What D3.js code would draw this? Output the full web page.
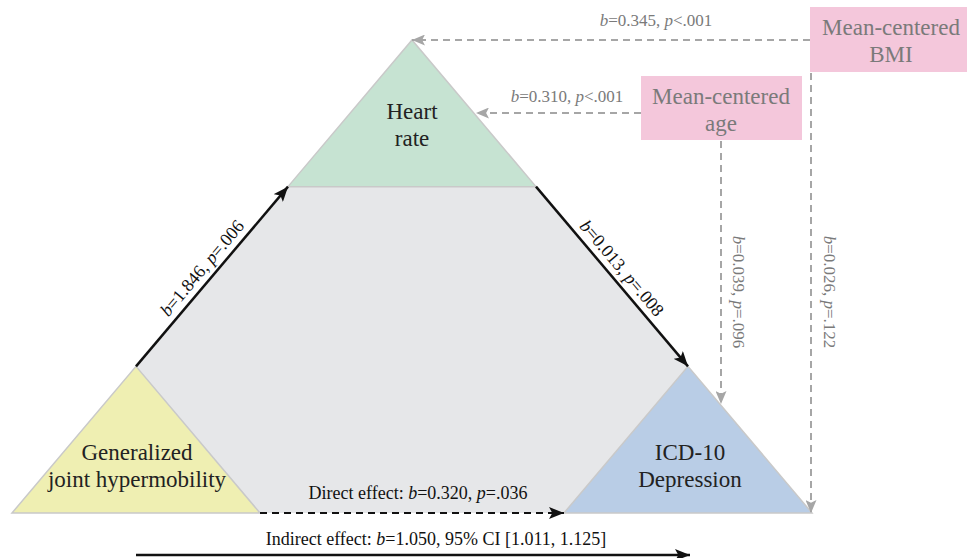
<!DOCTYPE html>
<html>
<head>
<meta charset="utf-8">
<script src="https://cdn.jsdelivr.net/npm/d3@7"></script>
<style>
  body { margin: 0; background: #fff; }
  svg text { font-family: "Liberation Serif", "Times New Roman", serif; }
</style>
</head>
<body>
<svg></svg>
<script>
(function () {
  var width = 967, height = 558;

  // node labels (lines) and their colours
  var nodeNames = ["Generalized|joint hypermobility", "Heart|rate", "ICD-10|Depression"];
  var nodeColors = ["#efefb2", "#c6e3d2", "#b9cde6"];
  var covariates = ["Mean-centered|BMI", "Mean-centered|age"];

  // path coefficients
  var pathA = {b: "1.846", p: "=.006"};
  var pathB = {b: "0.013", p: "=.008"};
  var direct = {b: "0.320", p: "=.036"};
  var indirect = {b: "1.050", ci: "95% CI [1.011, 1.125]"};
  var bmiToHr = {b: "0.345", p: "<.001"};
  var ageToHr = {b: "0.310", p: "<.001"};
  var ageToDep = {b: "0.039", p: "=.096"};
  var bmiToDep = {b: "0.026", p: "=.122"};

  var svg = d3.select("svg").attr("width", width).attr("height", height);

  // diagram coordinates: big triangle spans 0..100 in both directions
  var x = d3.scaleLinear().domain([0, 100]).range([12, 812]);
  var y = d3.scaleLinear().domain([0, 100]).range([513, 40]);
  var s = 31; // corner triangle size (units)

  var defs = svg.append("defs");
  function marker(id, color, len, wid) {
    defs.append("marker")
      .attr("id", id)
      .attr("markerUnits", "userSpaceOnUse")
      .attr("viewBox", "0 0 " + len + " " + wid)
      .attr("refX", len).attr("refY", wid / 2)
      .attr("markerWidth", len).attr("markerHeight", wid)
      .attr("orient", "auto")
      .append("path")
      .attr("d", "M0,0 L" + len + "," + (wid / 2) + " L0," + wid + " L" + (len * 0.22) + "," + (wid / 2) + " Z")
      .attr("fill", color);
  }
  marker("ab", "#111", 15, 12);
  marker("ag", "#a6a6a6", 13, 11);

  var pt = function (p) { return [x(p[0]), y(p[1])]; };
  var line = d3.line();

  // grey hexagon between the corners
  var hex = [[50 - s / 2, 100 - s], [50 + s / 2, 100 - s], [100 - s / 2, s], [100 - s, 0], [s, 0], [s / 2, s]];
  svg.append("path")
    .attr("d", line(hex.map(pt)) + "Z")
    .attr("fill", "#e6e7e9");

  // three corner triangles
  var tris = [
    [[0, 0], [s, 0], [s / 2, s]],
    [[50 - s / 2, 100 - s], [50 + s / 2, 100 - s], [50, 100]],
    [[100 - s, 0], [100, 0], [100 - s / 2, s]]
  ];
  svg.selectAll(".tri")
    .data(tris)
    .enter().append("path")
    .attr("class", "tri")
    .attr("d", function (d) { return line(d.map(pt)) + "Z"; })
    .attr("fill", function (d, i) { return nodeColors[i]; })
    .attr("stroke", "#c9c9c9")
    .attr("stroke-width", 1.5);

  function multiline(g, lines, cx, y0, dy, size, color) {
    g.selectAll(null)
      .data(lines)
      .enter().append("text")
      .attr("x", cx)
      .attr("y", function (d, i) { return y0 + i * dy; })
      .attr("text-anchor", "middle")
      .attr("font-size", size)
      .attr("fill", color)
      .text(function (d) { return d; });
  }

  var nodeAnchors = [[137, 460], [412, 119], [690, 460]];
  nodeNames.forEach(function (n, i) {
    multiline(svg, n.split("|"), nodeAnchors[i][0], nodeAnchors[i][1], 27, 23, "#222");
  });

  // covariate boxes
  var boxes = [{x: 810, y: 7, w: 160, h: 65}, {x: 641, y: 76, w: 161, h: 64}];
  svg.selectAll(".box")
    .data(boxes)
    .enter().append("rect")
    .attr("class", "box")
    .attr("x", function (d) { return d.x; })
    .attr("y", function (d) { return d.y; })
    .attr("width", function (d) { return d.w; })
    .attr("height", function (d) { return d.h; })
    .attr("fill", "#f4c7db");
  multiline(svg, covariates[0].split("|"), 891, 35, 27, 23, "#7a7a7a");
  multiline(svg, covariates[1].split("|"), 721, 104, 27, 23, "#7a7a7a");

  // arrows
  function arrow(a, b, color, dash, mk, w) {
    svg.append("path")
      .attr("d", line([a, b]))
      .attr("fill", "none")
      .attr("stroke", color)
      .attr("stroke-width", w)
      .attr("stroke-dasharray", dash)
      .attr("marker-end", "url(#" + mk + ")");
  }
  var A0 = pt([s / 2, s]), A1 = pt([50 - s / 2, 100 - s]);
  var B0 = pt([50 + s / 2, 100 - s]), B1 = pt([100 - s / 2, s]);
  arrow(A0, A1, "#111", null, "ab", 2.5);
  arrow(B0, B1, "#111", null, "ab", 2.5);
  arrow(pt([s, 0]), pt([100 - s, 0]), "#111", "7,5", "ab", 2);
  arrow([x(s / 2), 555], [x(100 - s / 2) + 2, 555], "#111", null, "ab", 2.5);

  arrow([810, 40], pt([50, 100]), "#a6a6a6", "7,5", "ag", 2);
  arrow([641, 113], [476, 113], "#a6a6a6", "7,5", "ag", 2);
  arrow([721, 141], [721, 404], "#a6a6a6", "7,5", "ag", 2);
  arrow([811, 73], [811, 513], "#a6a6a6", "7,5", "ag", 2);

  // coefficient labels
  function coef(g, prefix, c) {
    var t = g.append("text");
    if (prefix) t.append("tspan").text(prefix);
    t.append("tspan").attr("font-style", "italic").text("b");
    t.append("tspan").text("=" + c.b + ", ");
    if (c.p) {
      t.append("tspan").attr("font-style", "italic").text("p");
      t.append("tspan").text(c.p);
    } else {
      t.append("tspan").text(c.ci);
    }
    return t;
  }
  function label(c, cx, cy, angle, color, size, prefix, dy) {
    var g = svg.append("g")
      .attr("transform", "translate(" + cx + "," + cy + ") rotate(" + angle + ")");
    coef(g, prefix, c)
      .attr("text-anchor", "middle")
      .attr("y", dy || 0)
      .attr("font-size", size)
      .attr("fill", color);
  }
  var angA = Math.atan2(A1[1] - A0[1], A1[0] - A0[0]) * 180 / Math.PI;
  var angB = Math.atan2(B1[1] - B0[1], B1[0] - B0[0]) * 180 / Math.PI;
  label(pathA, (A0[0] + A1[0]) / 2, (A0[1] + A1[1]) / 2, angA, "#111", 18, null, -7);
  label(pathB, (B0[0] + B1[0]) / 2, (B0[1] + B1[1]) / 2, angB, "#111", 18, null, -7);
  label(direct, 418, 499, 0, "#111", 18, "Direct effect: ");
  label(indirect, 436, 545, 0, "#111", 18, "Indirect effect: ");
  label(bmiToHr, 656, 26, 0, "#7a7a7a", 17);
  label(ageToHr, 567, 102, 0, "#7a7a7a", 17);
  label(ageToDep, 733, 292, 90, "#7a7a7a", 17);
  label(bmiToDep, 824, 292, 90, "#7a7a7a", 17);
})();
</script>
</body>
</html>
